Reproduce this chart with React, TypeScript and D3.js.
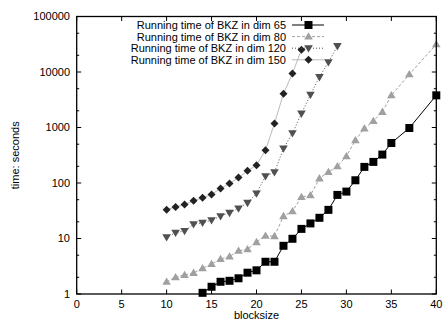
import * as d3 from 'd3';

const W = 443;
const H = 321;
const M = { left: 76.7, right: 443 - 436.3, top: 16.5, bottom: 321 - 294 };

const xTicks = [0, 5, 10, 15, 20, 25, 30, 35, 40];
const yTicks = [1, 10, 100, 1000, 10000, 100000];

const dim65X = [14, 15, 16, 17, 18, 19, 20, 21, 22, 23, 24, 25, 26, 27, 28, 29, 30, 31, 32, 33, 34, 35, 37, 40];
const dim65Y = [1.05, 1.35, 1.66, 1.73, 1.92, 2.42, 2.67, 3.81, 3.81, 7.39, 9.88, 14.9, 18.7, 23.6, 32.8, 61, 70, 112, 195, 240, 325, 526, 980, 3800];

const dim80X = [10, 11, 12, 13, 14, 15, 16, 17, 18, 19, 20, 21, 22, 23, 24, 25, 26, 27, 28, 29, 30, 31, 32, 33, 34, 35, 37, 40];
const dim80Y = [1.66, 2.0, 2.2, 2.4, 2.9, 3.46, 4.26, 4.75, 6.0, 6.4, 8.6, 11.2, 11.0, 25.3, 31, 56, 60, 121, 158, 200, 303, 590, 960, 1310, 1910, 3800, 9100, 31500];

const dim120X = [10, 11, 12, 13, 14, 15, 16, 17, 18, 19, 20, 21, 22, 23, 24, 25, 26, 27, 28, 29];
const dim120Y = [10.5, 12.7, 13.7, 18.1, 19.2, 21.4, 25.3, 29, 34.8, 43.9, 64.6, 133, 156, 418, 790, 1780, 3900, 8100, 15000, 29300];

const dim150X = [10, 11, 12, 13, 14, 15, 16, 17, 18, 19, 20, 21, 22, 23, 24, 25];
const dim150Y = [33, 37, 41, 48, 54, 62, 80, 98, 125, 166, 209, 390, 1180, 4070, 9400, 25200];

type Series = {
  label: string;
  xs: number[];
  ys: number[];
  stroke: string;
  width: number;
  dash?: string;
  marker: 'square' | 'tri' | 'itri' | 'diamond';
  fill: string;
};

const SERIES: Series[] = [
  { label: 'Running time of BKZ in dim 65', xs: dim65X, ys: dim65Y, stroke: '#000', width: 1, marker: 'square', fill: '#000' },
  { label: 'Running time of BKZ in dim 80', xs: dim80X, ys: dim80Y, stroke: '#a0a0a0', width: 1, dash: '3,2', marker: 'tri', fill: '#a0a0a0' },
  { label: 'Running time of BKZ in dim 120', xs: dim120X, ys: dim120Y, stroke: '#505050', width: 1, dash: '1,2', marker: 'itri', fill: '#505050' },
  { label: 'Running time of BKZ in dim 150', xs: dim150X, ys: dim150Y, stroke: '#a8a8a8', width: 0.8, marker: 'diamond', fill: '#222' },
];

function markerPath(m: Series['marker']) {
  if (m === 'square') return 'M-4,-4H4V4H-4Z';
  if (m === 'tri') return 'M0,-4.3L4.3,3L-4.3,3Z';
  if (m === 'itri') return 'M0,4.3L4.3,-3L-4.3,-3Z';
  return 'M0,-4L4,0L0,4L-4,0Z';
}

export default function App() {
  const x = d3.scaleLinear().domain([0, 40]).range([M.left, W - M.right]);
  const y = d3.scaleLog().domain([1, 100000]).range([H - M.bottom, M.top]);
  const x0 = M.left, x1 = W - M.right, y0 = H - M.bottom, y1 = M.top;

  const minorY: number[] = [];
  for (let d = 1; d < 100000; d *= 10) {
    minorY.push(d * 2, d * 5);
  }

  const legendY = (i: number) => 25 + i * 11.6;

  return (
    <>
      <style>{`body{margin:0}`}</style>
      <svg width={W} height={H} style={{ display: 'block', background: '#fff' }}
        fontFamily="'Liberation Sans', Arial, Helvetica, sans-serif" fontSize={11}>
        {/* series */}
        {SERIES.map((s) => {
          const pts = s.xs.map((v, i) => [v, s.ys[i]] as [number, number]);
          const line = d3.line<[number, number]>().x((d) => x(d[0])).y((d) => y(d[1]));
          return (
            <g key={s.label}>
              <path d={line(pts) ?? ''} fill="none" stroke={s.stroke} strokeWidth={s.width} strokeDasharray={s.dash} />
              {pts.map((p, i) => (
                <path key={i} d={markerPath(s.marker)} transform={`translate(${x(p[0])},${y(p[1])})`} fill={s.fill} />
              ))}
            </g>
          );
        })}

        {/* frame */}
        <rect x={x0} y={y1} width={x1 - x0} height={y0 - y1} fill="none" stroke="#000" strokeWidth={1.3} />

        {/* x ticks */}
        {xTicks.map((t) => (
          <g key={t}>
            <line x1={x(t)} x2={x(t)} y1={y0} y2={y0 - 4.5} stroke="#000" />
            <line x1={x(t)} x2={x(t)} y1={y1} y2={y1 + 4.5} stroke="#000" />
            <text x={x(t)} y={308} textAnchor="middle">{t}</text>
          </g>
        ))}

        {/* y ticks */}
        {yTicks.map((t) => (
          <g key={t}>
            <line x1={x0} x2={x0 + 4.5} y1={y(t)} y2={y(t)} stroke="#000" />
            <line x1={x1} x2={x1 - 4.5} y1={y(t)} y2={y(t)} stroke="#000" />
            <text x={70} y={y(t)} dy="0.36em" textAnchor="end">{t}</text>
          </g>
        ))}
        {minorY.map((t) => (
          <g key={'m' + t}>
            <line x1={x0} x2={x0 + 2.5} y1={y(t)} y2={y(t)} stroke="#000" />
            <line x1={x1} x2={x1 - 2.5} y1={y(t)} y2={y(t)} stroke="#000" />
          </g>
        ))}

        {/* axis labels */}
        <text x={(x0 + x1) / 2} y={318.5} textAnchor="middle">blocksize</text>
        <text transform={`translate(19,${(y0 + y1) / 2}) rotate(-90)`} textAnchor="middle">time: seconds</text>

        {/* legend */}
        {SERIES.map((s, i) => (
          <g key={'l' + i}>
            <text x={286} y={legendY(i)} dy="0.36em" textAnchor="end">{s.label}</text>
            <line x1={292} x2={324} y1={legendY(i)} y2={legendY(i)} stroke={s.stroke} strokeWidth={s.width} strokeDasharray={s.dash} />
            <path d={markerPath(s.marker)} transform={`translate(308.5,${legendY(i)})`} fill={s.fill} />
          </g>
        ))}
      </svg>
    </>
  );
}
